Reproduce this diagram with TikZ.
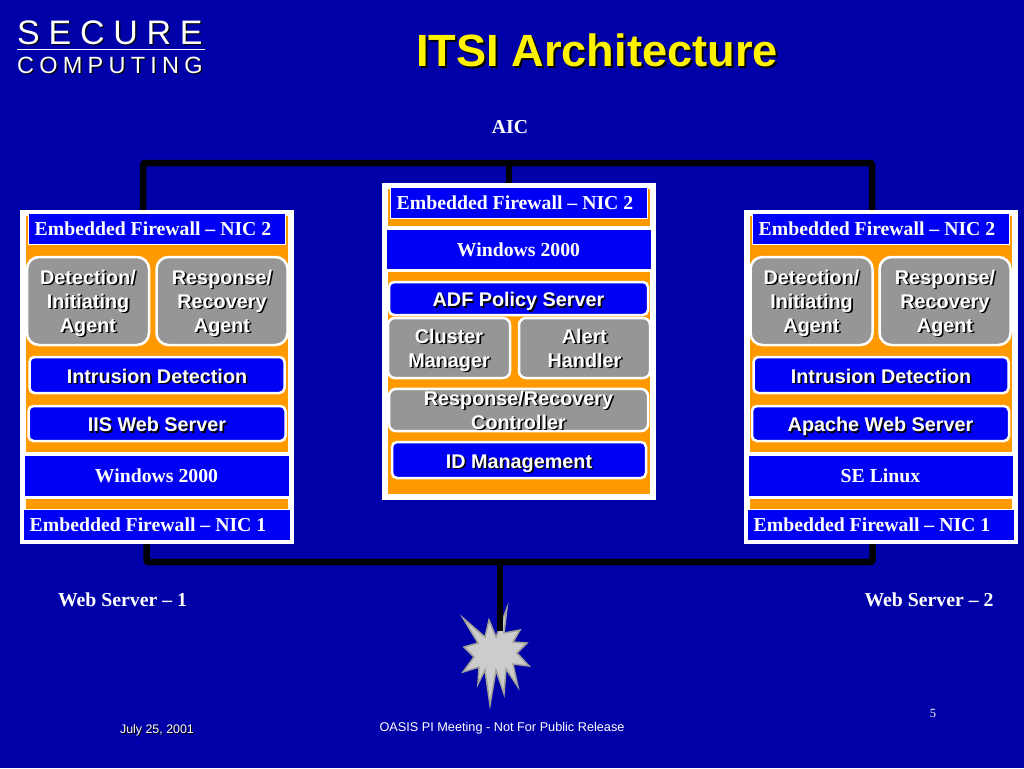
\documentclass[tikz,border=0pt]{standalone}
\usepackage{fontspec}
\setmainfont{Liberation Serif}
\setsansfont{Liberation Sans}
\usetikzlibrary{positioning}
\definecolor{slidebg}{HTML}{0000A8}
\definecolor{barblue}{HTML}{0000F5}
\definecolor{panelorange}{HTML}{FF9900}
\definecolor{agentgray}{HTML}{969696}
\definecolor{starfill}{HTML}{CCCCCC}
\definecolor{staredge}{HTML}{A0A098}
\newcommand{\shd}[2][1.6pt]{\makebox[0pt][l]{\hspace{#1}\raisebox{-#1}{\textcolor{black}{#2}}}#2}
\newcommand{\tstrut}{\rule{0pt}{20pt}}
\newcommand{\bstrut}{\rule[-6pt]{0pt}{6pt}}
\tikzstyle{panel} = [rectangle, inner sep=0pt, draw=white, line width=6pt, fill=panelorange]
\tikzstyle{bar} = [rectangle, inner sep=0pt, draw=white, line width=0.8pt, fill=barblue, text=white, font=\rmfamily\bfseries\fontsize{19.75}{23}\selectfont]
\tikzstyle{agent} = [rectangle, rounded corners=12pt, inner sep=0pt, align=center, draw=white, line width=2.5pt, fill=agentgray, text=white, font=\sffamily\bfseries\fontsize{19.8}{24}\selectfont]
\tikzstyle{service} = [agent, rounded corners=5pt, fill=barblue, text height=18pt, text depth=2pt]
\tikzstyle{caption} = [text=white, font=\rmfamily\bfseries\fontsize{19.75}{23}\selectfont]
\tikzstyle{foot} = [text=white, font=\sffamily\fontsize{12.7}{15}\selectfont]
\tikzstyle{bus} = [black, line width=6.5pt, rounded corners=2pt]

\begin{document}
\begin{tikzpicture}[x=1pt,y=-1pt]
\path [use as bounding box, fill=slidebg] (0,0) rectangle (1024,768);

% logo and title
\node (secure) [anchor=west, text=white, inner sep=0pt, font=\sffamily\fontsize{34}{36}\selectfont] at (17,33) {\shd[1.2pt]{\makebox[185.5pt][s]{S E C U R E}}};
\node (computing) [anchor=west, text=white, inner sep=0pt, font=\sffamily\fontsize{23.5}{26}\selectfont] at (17,66) {\shd[1.2pt]{\makebox[185.5pt][s]{C O M P U T I N G}}};
\draw [white, line width=1.2pt] (secure.west |- 0,49.5) -- +(188,0);
\node (title) [text=yellow, font=\sffamily\bfseries\fontsize{45.2}{50}\selectfont] at (597,51.5) {\shd[2pt]{ITSI Architecture}};
\node (aic) [caption] at (510,127) {AIC};

% bus lines
\coordinate (ltop) at (143,212);
\coordinate (rtop) at (872,212);
\coordinate (ctop) at (509,185);
\coordinate (lbot) at (146.5,542);
\coordinate (rbot) at (872.5,542);
\coordinate (cbot) at (500,631);
\draw [bus] (ltop) |- (rtop |- 0,163) -- (rtop);
\draw [bus] (ctop) -- (ctop |- 0,163);
\draw [bus] (lbot) |- (rbot |- 0,562) -- (rbot);

% left server
\node (lpanel) [panel, minimum width=268pt, minimum height=328pt] at (157,377) {};
\fill [white] (21,452) rectangle (293,499);
\fill [white] (21,509) rectangle (293,542);
\node (lnic2) [bar, minimum width=257pt, minimum height=31pt] at (156.5,228.5) {\hspace*{-7pt}Embedded Firewall -- NIC 2};
\node (ldetect) [agent, minimum width=122pt, minimum height=88pt] at (88,301) {\tstrut\shd{Detection/}\\\shd{Initiating}\\\shd{Agent}\bstrut};
\node (lrespond) [agent, minimum width=131pt, minimum height=88pt] at (222,301) {\tstrut\shd{Response/}\\\shd{Recovery}\\\shd{Agent}\bstrut};
\node (lintr) [service, minimum width=255pt, minimum height=36pt] at (157,375) {\shd{Intrusion Detection}};
\node (lweb) [service, minimum width=257pt, minimum height=35pt] at (157,423.5) {\shd{IIS Web Server}};
\node (los) [bar, minimum width=265pt, minimum height=41pt] at (156.5,475.5) {Windows 2000};
\node (lnic1) [bar, minimum width=267pt, minimum height=31pt] at (156.5,525) {\hspace*{-17pt}Embedded Firewall -- NIC 1};
\node (lname) [caption] at (122.5,600) {Web Server -- 1};

% centre server
\node (cpanel) [panel, minimum width=268pt, minimum height=311pt] at (518.5,341.5) {};
\fill [white] (383,226) rectangle (654,272);
\node (cnic2) [bar, minimum width=257pt, minimum height=31pt] at (518.5,202.5) {\hspace*{-7pt}Embedded Firewall -- NIC 2};
\node (cos) [bar, minimum width=265pt, minimum height=40pt] at (518.5,249.5) {Windows 2000};
\node (cpolicy) [service, minimum width=259pt, minimum height=33pt] at (518.5,298.5) {\shd{ADF Policy Server}};
\node (ccluster) [agent, rounded corners=7pt, minimum width=122pt, minimum height=60pt] at (449,348) {\tstrut\shd{Cluster}\\\shd{Manager}\bstrut};
\node (calert) [agent, rounded corners=7pt, minimum width=131pt, minimum height=60pt] at (584.5,348) {\tstrut\shd{Alert}\\\shd{Handler}\bstrut};
\node (ccontrol) [agent, rounded corners=7pt, minimum width=259pt, minimum height=42pt] at (518.5,410) {\rule{0pt}{16.4pt}\shd{Response/Recovery}\\\shd{Controller}};
\node (cid) [service, minimum width=254pt, minimum height=36pt] at (519,460) {\shd{ID Management}};

% right server
\node (rpanel) [panel, minimum width=268pt, minimum height=328pt] at (880.5,377) {};
\fill [white] (745,452) rectangle (1016,499);
\fill [white] (745,509) rectangle (1016,542);
\node (rnic2) [bar, minimum width=257pt, minimum height=31pt] at (880.5,228.5) {\hspace*{-7pt}Embedded Firewall -- NIC 2};
\node (rdetect) [agent, minimum width=122pt, minimum height=88pt] at (811.5,301) {\tstrut\shd{Detection/}\\\shd{Initiating}\\\shd{Agent}\bstrut};
\node (rrespond) [agent, minimum width=131pt, minimum height=88pt] at (945,301) {\tstrut\shd{Response/}\\\shd{Recovery}\\\shd{Agent}\bstrut};
\node (rintr) [service, minimum width=255pt, minimum height=36pt] at (881,375) {\shd{Intrusion Detection}};
\node (rweb) [service, minimum width=257pt, minimum height=35pt] at (880.5,423.5) {\shd{Apache Web Server}};
\node (ros) [bar, minimum width=265pt, minimum height=41pt] at (880.5,475.5) {SE Linux};
\node (rnic1) [bar, minimum width=267pt, minimum height=31pt] at (880.5,525) {\hspace*{-17pt}Embedded Firewall -- NIC 1};
\node (rname) [caption] at (929,600) {Web Server -- 2};

% burst under the bus
\draw [fill=starfill, draw=staredge, line width=1.5pt, line join=miter]
  (507,608) -- (504,633) -- (520,630) -- (513,642) -- (527,643) -- (517,653) -- (529,666) -- (513,664) -- (518,687) -- (506,669) -- (504,694) -- (496,670) -- (490,705) -- (485,670) -- (478,684) -- (479,667) -- (463,672) -- (474,657) -- (464,647) -- (478,643) -- (463,618) -- (485,637) -- (489,620) -- (496,637) -- cycle;
\draw [bus] (cbot) -- (cbot |- 0,562);

% footer
\node (date) [foot, font=\sffamily\fontsize{12.4}{15}\selectfont] at (157,731) {\shd[1pt]{July 25, 2001}};
\node (meeting) [foot] at (502,728) {OASIS PI Meeting - Not For Public Release};
\node (page) [text=white, font=\rmfamily\fontsize{12.5}{15}\selectfont] at (933,713) {5};
\end{tikzpicture}
\end{document}
